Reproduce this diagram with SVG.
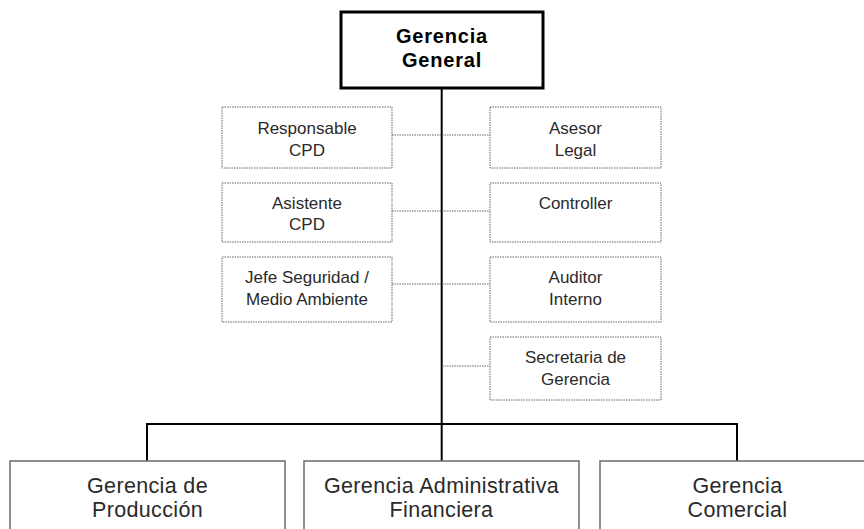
<svg xmlns="http://www.w3.org/2000/svg" width="864" height="529" viewBox="0 0 864 529">
<style>
  .dot { fill: #ffffff; stroke: #666666; stroke-width: 1; stroke-dasharray: 1.5 1; }
  .sub { fill: #ffffff; stroke: #6a6a6a; stroke-width: 1.5; }
  .top { fill: #ffffff; stroke: #000000; stroke-width: 3; }
  .solid { stroke: #000000; stroke-width: 2; fill: none; }
  .dotline { stroke: #666666; stroke-width: 1; stroke-dasharray: 1.5 1; fill: none; }
  .tb { font-family: "Liberation Sans", Arial, sans-serif; font-size: 20px; font-weight: bold; letter-spacing: 0.8px; fill: #000; text-anchor: middle; }
  .tm { font-family: "Liberation Sans", Arial, sans-serif; font-size: 17px; fill: #2a2a2a; text-anchor: middle; }
  .tl { font-family: "Liberation Sans", Arial, sans-serif; font-size: 21.5px; letter-spacing: 0.35px; fill: #2a2a2a; text-anchor: middle; }
</style>
<rect width="864" height="529" fill="#ffffff"/>
<g id="connectors">
  <line class="solid" x1="441.7" y1="88" x2="441.7" y2="461"/>
  <polyline class="solid" points="147,461 147,424 737,424 737,461"/>
  <line class="dotline" x1="392" y1="135" x2="490" y2="135"/>
  <line class="dotline" x1="392" y1="211" x2="490" y2="211"/>
  <line class="dotline" x1="392" y1="284" x2="490" y2="284"/>
  <line class="dotline" x1="442" y1="366" x2="490" y2="366"/>
</g>
<g id="gerencia-general">
  <rect class="top" x="341" y="12" width="202" height="76"/>
  <text class="tb" x="442" y="43">Gerencia</text>
  <text class="tb" x="442" y="67">General</text>
</g>
<g id="responsable-cpd">
  <rect class="dot" x="222" y="107" width="170" height="61"/>
  <text class="tm" x="307" y="134">Responsable</text>
  <text class="tm" x="307" y="156">CPD</text>
</g>
<g id="asistente-cpd">
  <rect class="dot" x="222" y="183" width="170" height="59"/>
  <text class="tm" x="307" y="209">Asistente</text>
  <text class="tm" x="307" y="230">CPD</text>
</g>
<g id="jefe-seguridad">
  <rect class="dot" x="222" y="257" width="170" height="65"/>
  <text class="tm" x="307" y="283">Jefe Seguridad /</text>
  <text class="tm" x="307" y="305">Medio Ambiente</text>
</g>
<g id="asesor-legal">
  <rect class="dot" x="490" y="107" width="171" height="61"/>
  <text class="tm" x="575.5" y="134">Asesor</text>
  <text class="tm" x="575.5" y="156">Legal</text>
</g>
<g id="controller">
  <rect class="dot" x="490" y="183" width="171" height="59"/>
  <text class="tm" x="575.5" y="209">Controller</text>
</g>
<g id="auditor-interno">
  <rect class="dot" x="490" y="257" width="171" height="65"/>
  <text class="tm" x="575.5" y="283">Auditor</text>
  <text class="tm" x="575.5" y="305">Interno</text>
</g>
<g id="secretaria-gerencia">
  <rect class="dot" x="490" y="337" width="171" height="63"/>
  <text class="tm" x="575.5" y="363">Secretaria de</text>
  <text class="tm" x="575.5" y="385">Gerencia</text>
</g>
<g id="gerencia-produccion">
  <rect class="sub" x="10" y="461" width="275" height="80"/>
  <text class="tl" x="147.5" y="493">Gerencia de</text>
  <text class="tl" x="147.5" y="517">Producción</text>
</g>
<g id="gerencia-administrativa">
  <rect class="sub" x="304" y="461" width="275" height="80"/>
  <text class="tl" x="441.5" y="493">Gerencia Administrativa</text>
  <text class="tl" x="441.5" y="517">Financiera</text>
</g>
<g id="gerencia-comercial">
  <rect class="sub" x="600" y="461" width="275" height="80"/>
  <text class="tl" x="737.5" y="493">Gerencia</text>
  <text class="tl" x="737.5" y="517">Comercial</text>
</g>
</svg>
